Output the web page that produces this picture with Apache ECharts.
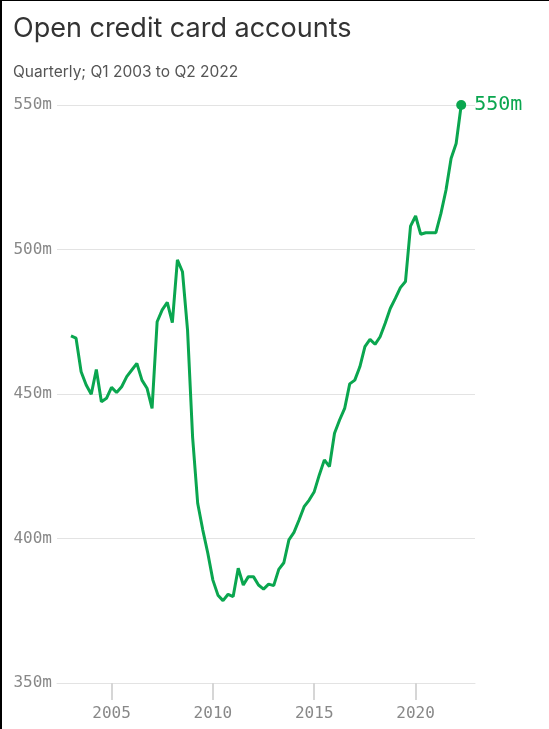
<!DOCTYPE html>
<html>
<head>
<meta charset="utf-8">
<script src="https://cdn.jsdelivr.net/npm/echarts@6/dist/echarts.min.js"></script>
<style>
  html, body { margin: 0; padding: 0; background: #fff; }
  #main { width: 549px; height: 729px; }
  #frame { position: absolute; left: 0; top: 0; width: 549px; height: 729px;
           box-sizing: border-box; border-left: 2px solid #000; border-top: 1px solid #000;
           pointer-events: none; }
</style>
</head>
<body>
<div id="main"></div>
<div id="frame"></div>
<script>
// quarterly open credit card accounts, millions, Q1 2003 .. Q2 2022
var startYear = 2003;
var accounts = [
  470.1, 469.3, 457.7, 453.1,
  449.9, 458.5, 447.3, 448.5,
  452.3, 450.5, 452.5, 456.0,
  458.3, 460.6, 454.8, 452.0,
  445.0, 475.0, 479.1, 481.7,
  474.7, 496.4, 492.3, 472.1,
  435.0, 412.2, 403.0, 394.9,
  385.6, 380.4, 378.5, 380.7,
  379.9, 389.7, 383.9, 386.8,
  386.8, 383.9, 382.5, 384.2,
  383.7, 389.3, 391.6, 399.5,
  402.1, 406.4, 411.0, 413.3,
  416.2, 422.0, 427.2, 424.9,
  436.4, 441.0, 445.0, 453.5,
  454.8, 459.4, 466.4, 468.9,
  467.2, 469.8, 474.5, 479.6,
  483.1, 486.8, 488.9, 508.1,
  511.6, 505.3, 505.8, 505.8,
  505.8, 512.5, 520.6, 531.5,
  536.7, 550.0
];
var yearTicks = [2005, 2010, 2015, 2020];
var valueTicks = [350, 400, 450, 500, 550];

var green = '#0aa64f';
var mono = '"DejaVu Sans Mono", monospace';

var points = accounts.map(function (v, i) {
  return [startYear + i / 4, v];
});
var last = points.length - 1;
points[last] = {
  value: points[last],
  symbol: 'circle',
  symbolSize: 10,
  label: {
    show: true,
    position: 'right',
    distance: 8,
    formatter: function (p) { return Math.round(p.value[1]) + 'm'; },
    color: green,
    fontFamily: mono,
    fontSize: 20
  }
};

var myChart = echarts.init(document.getElementById('main'));
myChart.setOption({
  animation: false,
  title: {
    text: 'Open credit card accounts',
    subtext: 'Quarterly; Q1 2003 to Q2 2022',
    left: 8,
    top: 10,
    itemGap: 22,
    textStyle: { fontFamily: 'Inter', fontSize: 27, fontWeight: 'normal', color: '#333' },
    subtextStyle: { fontFamily: 'Inter', fontSize: 15.5, color: '#555' }
  },
  grid: { left: 57, right: 74, top: 105, bottom: 46, outerBoundsMode: 'none' },
  xAxis: {
    type: 'value',
    min: 2002.31,
    max: 2022.93,
    axisLine: { show: true, lineStyle: { color: '#e3e3e3' } },
    splitLine: { show: false },
    axisTick: {
      show: true,
      customValues: yearTicks,
      length: 17,
      lineStyle: { color: '#d6d6d6', width: 2 }
    },
    axisLabel: {
      customValues: yearTicks,
      margin: 23,
      color: '#888',
      fontFamily: mono,
      fontSize: 16,
      formatter: function (v) { return String(v); }
    }
  },
  yAxis: {
    type: 'value',
    min: valueTicks[0],
    max: valueTicks[valueTicks.length - 1],
    interval: 50,
    axisLine: { show: false },
    axisTick: { show: false },
    splitLine: { lineStyle: { color: '#e3e3e3' } },
    axisLabel: {
      margin: 5,
      color: '#888',
      fontFamily: mono,
      fontSize: 16,
      formatter: '{value}m'
    }
  },
  series: [{
    type: 'line',
    data: points,
    showSymbol: true,
    symbol: 'none',
    lineStyle: { color: green, width: 3 },
    itemStyle: { color: green }
  }]
});
</script>
</body>
</html>
